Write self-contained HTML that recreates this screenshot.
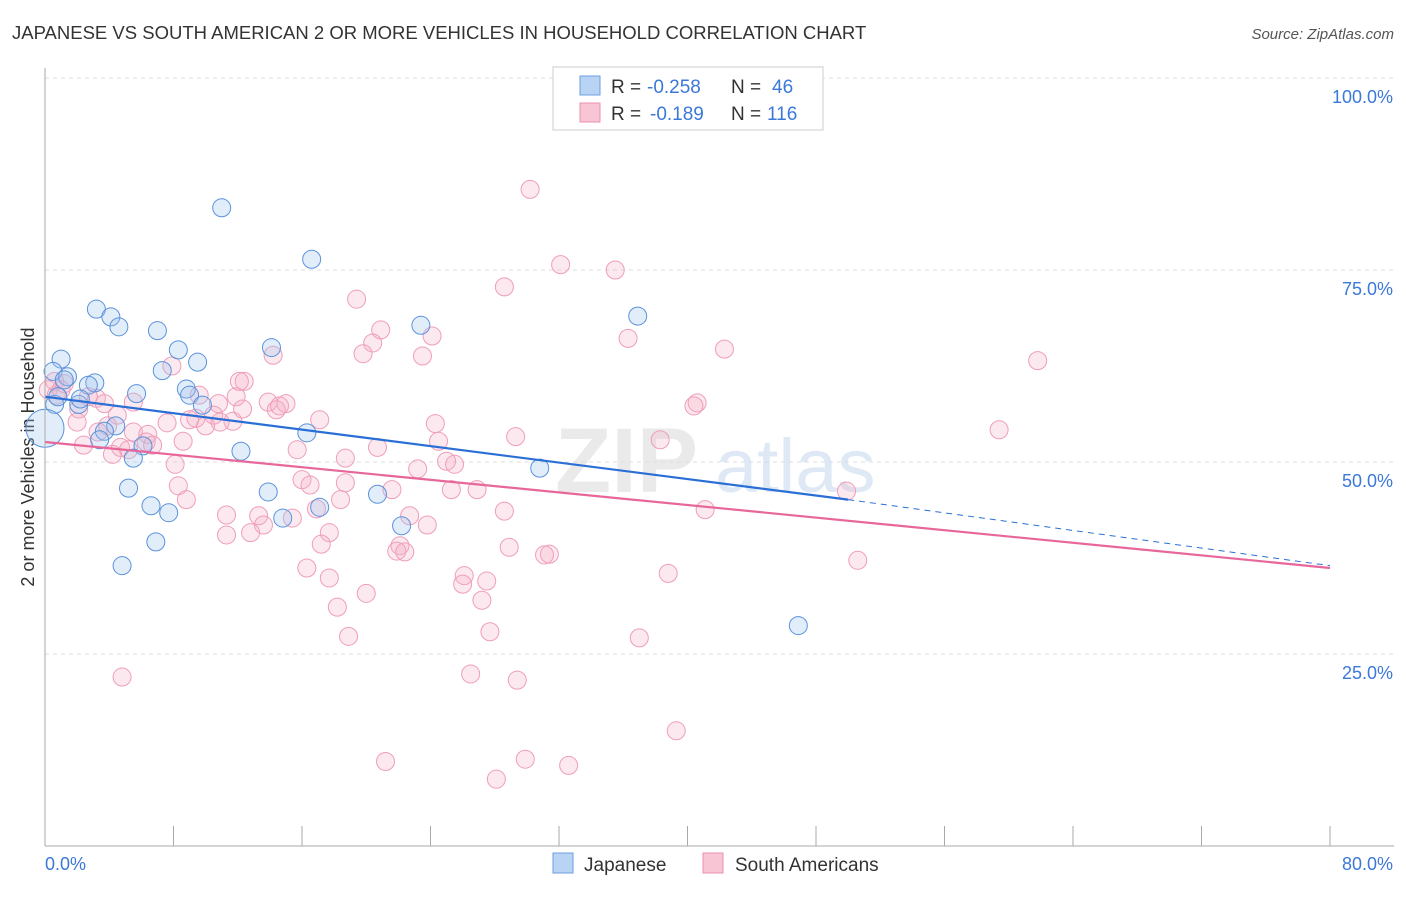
<!DOCTYPE html>
<html><head><meta charset="utf-8">
<style>
body{margin:0;background:#fff;font-family:"Liberation Sans",sans-serif;}
svg text{font-family:"Liberation Sans",sans-serif;}
</style></head>
<body>
<svg id="chart" width="1406" height="892" viewBox="0 0 1406 892" xmlns="http://www.w3.org/2000/svg">
<text x="12" y="39" font-size="18.5" fill="#333">JAPANESE VS SOUTH AMERICAN 2 OR MORE VEHICLES IN HOUSEHOLD CORRELATION CHART</text>
<text x="1394" y="39" font-size="15" fill="#555" text-anchor="end" font-style="italic">Source: ZipAtlas.com</text>
<text transform="translate(34,457) rotate(-90)" font-size="18" fill="#333" text-anchor="middle">2 or more Vehicles in Household</text>
<g id="grid"></g>
<g id="watermark">
<text x="555" y="492" font-size="92" fill="#ddd" font-family="Liberation Serif" font-weight="bold" opacity="0.6">ZIP</text>
<text x="715" y="492" font-size="76" fill="#c9dcf0" opacity="0.6">atlas</text>
</g>
<g id="pts"></g>
<g id="trends"></g>
<g id="axes"></g>
<g>
<rect x="553" y="67" width="270" height="63" fill="#fff" stroke="#ccc"/>
<rect x="580" y="76" width="20" height="19" fill="#b9d3f5" stroke="#6a9fe0"/>
<rect x="580" y="103" width="20" height="19" fill="#f8c5d5" stroke="#ec8fae"/>
<text x="611" y="93" font-size="19" fill="#333">R =</text>
<text x="647" y="93" font-size="19" fill="#3b78d8">-0.258</text>
<text x="731" y="93" font-size="19" fill="#333">N =</text>
<text x="772" y="93" font-size="19" fill="#3b78d8">46</text>
<text x="611" y="120" font-size="19" fill="#333">R =</text>
<text x="650" y="120" font-size="19" fill="#3b78d8">-0.189</text>
<text x="731" y="120" font-size="19" fill="#333">N =</text>
<text x="767" y="120" font-size="19" fill="#3b78d8">116</text>
</g>
<g>
<rect x="553" y="853" width="20" height="20" fill="#b9d3f5" stroke="#6a9fe0"/>
<text x="584" y="871" font-size="19" fill="#333">Japanese</text>
<rect x="703" y="853" width="20" height="20" fill="#f8c5d5" stroke="#ec8fae"/>
<text x="735" y="871" font-size="19" fill="#333">South Americans</text>
</g>
</svg>
<script>
const yTicks=[25,50,75,100];
const yTickLabels=["25.0%","50.0%","75.0%","100.0%"];
const xTickLabels=["0.0%","80.0%"];
// Japanese [x%, y%]
const japanese=[[11.0,83.1],[16.6,76.4],[3.2,69.9],[4.1,68.9],[4.6,67.6],[7.0,67.1],[23.4,67.8],[36.9,69.0],[14.1,64.9],[8.3,64.6],[1.0,63.4],[9.5,63.0],[0.5,61.8],[7.3,61.9],[1.4,61.1],[3.1,60.3],[2.7,60.0],[8.8,59.5],[5.7,58.9],[9.0,58.7],[0.6,57.5],[2.1,57.5],[9.8,57.4],[4.4,54.7],[3.7,54.0],[16.3,53.8],[6.1,52.1],[12.2,51.4],[5.5,50.5],[30.8,49.2],[5.2,46.6],[13.9,46.1],[20.7,45.8],[6.6,44.3],[7.7,43.4],[17.1,44.1],[14.8,42.7],[22.2,41.7],[6.9,39.6],[4.8,36.5],[46.9,28.7],[0.0,54.4],[0.8,58.5],[2.2,58.2],[3.4,52.9],[1.2,60.7]];
// South Americans [x%, y%]
const southAmericans=[[30.2,85.5],[32.1,75.7],[35.5,75.0],[28.6,72.8],[19.4,71.2],[20.9,67.2],[20.4,65.5],[24.1,66.4],[36.3,66.1],[42.3,64.7],[61.8,63.2],[19.8,64.1],[23.5,63.8],[14.2,63.9],[7.9,62.5],[12.4,60.5],[0.6,60.5],[1.2,60.2],[0.2,59.4],[9.6,58.7],[3.2,58.3],[11.9,58.5],[15.0,57.6],[13.9,57.8],[10.8,57.6],[40.6,57.7],[40.4,57.3],[2.1,56.9],[4.5,56.1],[10.5,56.1],[12.3,56.9],[14.4,56.8],[9.4,55.7],[9.0,55.5],[7.6,55.1],[11.7,55.3],[10.0,54.7],[24.3,55.0],[2.0,55.2],[3.9,54.7],[3.3,53.9],[6.4,53.6],[5.5,53.9],[59.4,54.2],[29.3,53.3],[38.3,52.9],[24.5,52.7],[8.6,52.7],[6.3,52.6],[4.7,51.9],[2.4,52.2],[6.7,52.2],[5.2,51.6],[4.2,51.0],[20.7,51.9],[15.7,51.6],[25.0,50.1],[25.5,49.7],[23.2,49.1],[18.7,50.5],[16.0,47.7],[18.7,47.3],[16.5,47.0],[21.6,46.4],[8.3,46.9],[25.3,46.4],[26.9,46.4],[8.8,45.1],[18.4,45.1],[28.6,43.6],[41.1,43.8],[11.3,43.1],[13.3,43.0],[15.4,42.7],[22.7,43.0],[16.9,43.9],[13.6,41.8],[23.8,41.8],[11.3,40.5],[12.8,40.8],[17.7,40.8],[17.2,39.3],[22.1,39.1],[28.9,38.9],[21.9,38.4],[22.4,38.3],[31.4,38.0],[31.1,37.9],[50.6,37.2],[16.3,36.2],[26.1,35.2],[26.0,34.1],[27.5,34.5],[38.8,35.5],[17.7,34.9],[20.0,32.9],[18.2,31.1],[27.2,32.0],[18.9,27.3],[27.7,27.9],[37.0,27.1],[4.8,22.0],[26.5,22.4],[29.4,21.6],[39.3,15.0],[21.2,11.0],[29.9,11.3],[32.6,10.5],[28.1,8.7],[49.9,46.2],[12.1,60.5],[0.7,58.7],[1.0,59.4],[2.7,58.5],[3.7,57.6],[5.5,57.8],[8.1,49.7],[10.9,55.2],[14.6,57.3],[17.1,55.5]];
// Trend lines: [x0,y0,x1,y1] in data units
const japaneseTrend=[0,58.5,50,45.1];
const japaneseTrendExt=[50,45.1,80,36.5];
const southTrend=[0,52.6,80,36.2];

const X0=45,X1=1330,Y0=846,Y100=78;
const xs=v=>X0+(v/80)*(X1-X0);
const ys=v=>Y0-(v/100)*(Y0-Y100);
const NS="http://www.w3.org/2000/svg";
function mk(tag,attrs,parent){const e=document.createElementNS(NS,tag);for(const k in attrs)e.setAttribute(k,attrs[k]);parent.appendChild(e);return e;}

const grid=document.getElementById('grid');
const axes=document.getElementById('axes');
yTicks.forEach((t,i)=>{
  const l=mk('line',{x1:X0,x2:1394,y1:ys(t),y2:ys(t),stroke:'#ddd','stroke-dasharray':'4,4'},grid);
  
  
  const tx=mk('text',{x:1393,y:ys(t)+25,'font-size':18,fill:'#3b78d8','text-anchor':'end'},axes);
  tx.textContent=yTickLabels[i];
  
  
});
mk('line',{x1:X0,x2:X0,y1:68,y2:Y0,stroke:'#aaa'},axes);
mk('line',{x1:X0,x2:1394,y1:Y0,y2:Y0,stroke:'#aaa'},axes);
for(let i=0;i<=10;i++){const x=X0+i*(X1-X0)/10;mk('line',{x1:x,x2:x,y1:826,y2:Y0,stroke:'#aaa'},axes);}
const xl0=mk('text',{x:45,y:870,'font-size':18,fill:'#3b78d8'},axes);xl0.textContent=xTickLabels[0];


const xl1=mk('text',{x:1393,y:870,'font-size':18,fill:'#3b78d8','text-anchor':'end'},axes);xl1.textContent=xTickLabels[1];



const pts=document.getElementById('pts');
southAmericans.forEach(d=>{
  const c=mk('circle',{cx:xs(d[0]),cy:ys(d[1]),r:9,fill:'rgba(246,175,199,0.28)',stroke:'#ef9dba','stroke-width':1},pts);
  
  
});
japanese.forEach((d,i)=>{
  const c=mk('circle',{cx:xs(d[0]),cy:ys(d[1]),r:(i==41?19:9),fill:'rgba(160,196,240,0.3)',stroke:'#5a92dc','stroke-width':1},pts);
  
  
});
const tr=document.getElementById('trends');
const a=mk('line',{x1:xs(japaneseTrend[0]),y1:ys(japaneseTrend[1]),x2:xs(japaneseTrend[2]),y2:ys(japaneseTrend[3]),stroke:'#2a6fd6','stroke-width':2.2},tr);


const b=mk('line',{x1:xs(japaneseTrendExt[0]),y1:ys(japaneseTrendExt[1]),x2:xs(japaneseTrendExt[2]),y2:ys(japaneseTrendExt[3]),stroke:'#2a6fd6','stroke-width':1,'stroke-dasharray':'6,5'},tr);


const s=mk('line',{x1:xs(southTrend[0]),y1:ys(southTrend[1]),x2:xs(southTrend[2]),y2:ys(southTrend[3]),stroke:'#e8679a','stroke-width':2.2},tr);


</script>
</body></html>
